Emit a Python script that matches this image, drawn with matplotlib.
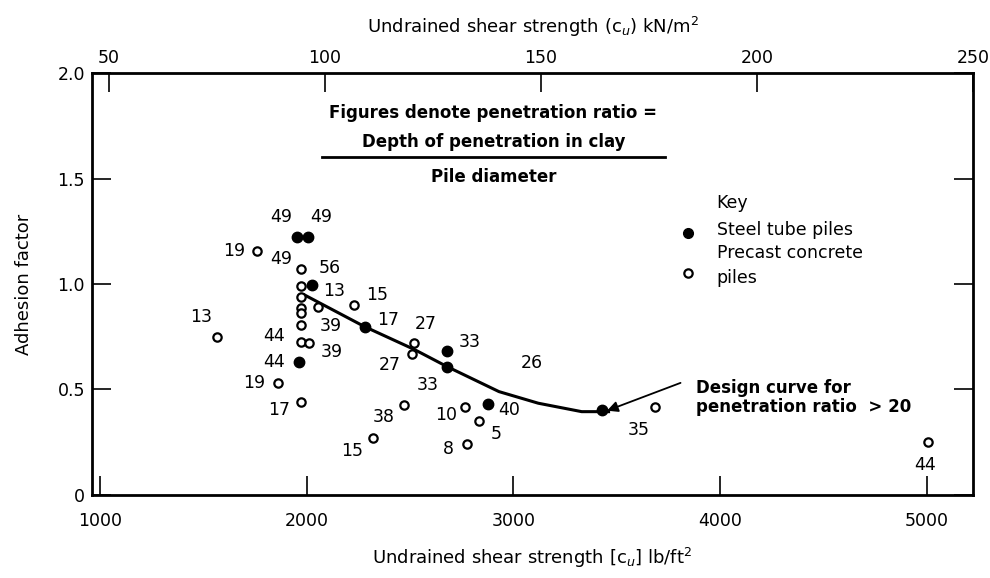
import matplotlib
matplotlib.use("Agg")
import matplotlib.pyplot as plt
import numpy as np

# steel tube piles (filled)
steel_x = [1955, 2005, 2025, 1965, 2280, 2680, 2680, 2875, 3430]
steel_y = [1.224, 1.224, 0.995, 0.632, 0.798, 0.684, 0.608, 0.43, 0.403]
steel_ratio = ["49", "49", "56", "44", "17", "33", "33", "40", ""]

# precast concrete piles (open)
conc_x = [1760, 1972, 1972, 1972, 2055, 1972, 1972, 1972, 1972, 2013,
          1860, 1972, 1565, 2230, 2520, 2510, 2470, 2320, 2765, 2835,
          2775, 3685, 5005]
conc_y = [1.158, 1.07, 0.99, 0.937, 0.892, 0.885, 0.861, 0.806, 0.724, 0.719,
          0.529, 0.442, 0.75, 0.9, 0.719, 0.668, 0.427, 0.268, 0.416, 0.352,
          0.242, 0.416, 0.253]
conc_ratio = ["19", "49", "13", "", "", "", "", "39", "44", "39",
              "19", "17", "13", "15", "27", "27", "38", "15", "10", "5",
              "8", "35", "44"]

# design curve for penetration ratio > 20
curve_x = [1990, 2280, 2520, 2680, 2930, 3120, 3330, 3460]
curve_y = [0.948, 0.798, 0.69, 0.608, 0.49, 0.435, 0.395, 0.395]

KN_TO_LB = 20.885

# label offsets in pixels (dx, dy), same order as the points
steel_off = [(-16, 20), (14, 20), (18, 17), (-25, 0), (24, 7), (22, 9), (-20, -18), (22, -6), (0, 0)]
conc_off = [(-23, 0), (-20, 10), (33, -5), (0, 0), (0, 0), (0, 0), (0, 0), (30, -1), (-27, 6), (22, -9),
            (-23, 0), (-22, -8), (-16, 20), (23, 10), (12, 19), (-22, -11), (-20, -12), (-21, -13), (-19, -8), (17, -13),
            (-19, -5), (-16, -23), (-3, -23)]

fig = plt.figure(figsize=(9.9, 5.78), dpi=100)
ax = fig.add_axes([0.0929, 0.1436, 0.8899, 0.7301])

ax.plot(curve_x, curve_y, color="black", lw=2.2, zorder=2)
ax.plot(steel_x, steel_y, "o", ms=7.5, mfc="black", mec="black", zorder=3)
ax.plot(conc_x, conc_y, "o", ms=6, mfc="white", mec="black", mew=1.6, zorder=3)

for x, y, r, (dx, dy) in zip(steel_x, steel_y, steel_ratio, steel_off):
    if r:
        ax.annotate(r, (x, y), xytext=(dx, dy), textcoords="offset pixels",
                    ha="center", va="center", fontsize=12.5)
for x, y, r, (dx, dy) in zip(conc_x, conc_y, conc_ratio, conc_off):
    if r:
        ax.annotate(r, (x, y), xytext=(dx, dy), textcoords="offset pixels",
                    ha="center", va="center", fontsize=12.5)
ax.text(3090, 0.625, "26", ha="center", va="center", fontsize=12.5)

ax.set_xlim(962, 5222)
ax.set_ylim(0, 2.0)
ax.set_xticks([1000, 2000, 3000, 4000, 5000])
ax.set_yticks([0, 0.5, 1.0, 1.5, 2.0])
ax.set_yticklabels(["0", "0.5", "1.0", "1.5", "2.0"])
ax.tick_params(direction="in", length=14, width=1.2, labelsize=12.5, right=True)
ax.tick_params(axis="x", pad=12)
ax.tick_params(axis="y", pad=5)
for s in ax.spines.values():
    s.set_linewidth(2)

sec = ax.secondary_xaxis("top", functions=(lambda v: v / KN_TO_LB, lambda v: v * KN_TO_LB))
sec.set_xticks([50, 100, 150, 200, 250])
sec.tick_params(direction="in", length=14, width=1.2, labelsize=12.5, pad=4)
sec.set_xlabel("Undrained shear strength (c$_u$) kN/m$^2$", fontsize=13, labelpad=12)

ax.set_xlabel("Undrained shear strength [c$_u$] lb/ft$^2$", fontsize=13, labelpad=12)
ax.set_ylabel("Adhesion factor", fontsize=13, labelpad=18)

# note on penetration ratio
ax.text(0.4557, 0.905, "Figures denote penetration ratio =", transform=ax.transAxes,
        ha="center", va="center", fontsize=12, fontweight="bold")
ax.text(0.4557, 0.836, "Depth of penetration in clay", transform=ax.transAxes,
        ha="center", va="center", fontsize=12, fontweight="bold")
ax.plot([0.261, 0.650], [0.801, 0.801], transform=ax.transAxes, color="black", lw=2)
ax.text(0.4557, 0.754, "Pile diameter", transform=ax.transAxes,
        ha="center", va="center", fontsize=12, fontweight="bold")

# key
ax.plot([0.677], [0.62], "o", ms=7, mfc="black", mec="black", transform=ax.transAxes)
ax.plot([0.677], [0.525], "o", ms=6, mfc="white", mec="black", mew=1.6, transform=ax.transAxes)
ax.text(0.709, 0.692, "Key", transform=ax.transAxes, ha="left", va="center", fontsize=12.5)
ax.text(0.709, 0.628, "Steel tube piles", transform=ax.transAxes, ha="left", va="center", fontsize=12.5)
ax.text(0.709, 0.573, "Precast concrete", transform=ax.transAxes, ha="left", va="center", fontsize=12.5)
ax.text(0.709, 0.514, "piles", transform=ax.transAxes, ha="left", va="center", fontsize=12.5)

ax.annotate("", xy=(curve_x[-1] - 20, curve_y[-1]), xycoords="data",
            xytext=(0.671, 0.268), textcoords="axes fraction",
            arrowprops=dict(arrowstyle="-|>", color="black", lw=1.3, mutation_scale=16))
ax.text(0.686, 0.253, "Design curve for", transform=ax.transAxes,
        ha="left", va="center", fontsize=12, fontweight="bold")
ax.text(0.686, 0.209, "penetration ratio  > 20", transform=ax.transAxes,
        ha="left", va="center", fontsize=12, fontweight="bold")

fig.savefig("out.png", dpi=100)
